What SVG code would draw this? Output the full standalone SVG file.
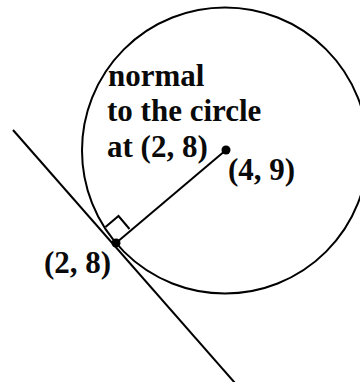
<svg xmlns="http://www.w3.org/2000/svg" width="360" height="382" viewBox="0 0 360 382">
<style>
.ln{stroke:#000;stroke-width:2;fill:none}
.lb{font-family:"Liberation Serif","Times New Roman",serif;font-weight:bold;font-size:31px;fill:#0a0a0a}
</style>
<rect width="360" height="382" fill="#fff"/>
<g id="circle"><circle class="ln" cx="225" cy="150.5" r="143"/></g>
<g id="connectors">
<line class="ln" x1="13" y1="130" x2="235" y2="383"/>
<line class="ln" x1="116" y1="243" x2="226" y2="150"/>
<polyline class="ln" points="105.5,227 118.5,216 129.5,229"/>
</g>
<g id="point-2-8"><circle cx="116" cy="243" r="4.5" fill="#000"/><text class="lb" x="44" y="273">(2, 8)</text></g>
<g id="point-4-9"><circle cx="226" cy="150" r="4.5" fill="#000"/><text class="lb" x="228" y="180">(4, 9)</text></g>
<g id="label-normal">
<text class="lb" x="108" y="86">normal</text>
<text class="lb" x="107" y="121">to the circle</text>
<text class="lb" x="107" y="157">at (2, 8)</text>
</g>
</svg>
